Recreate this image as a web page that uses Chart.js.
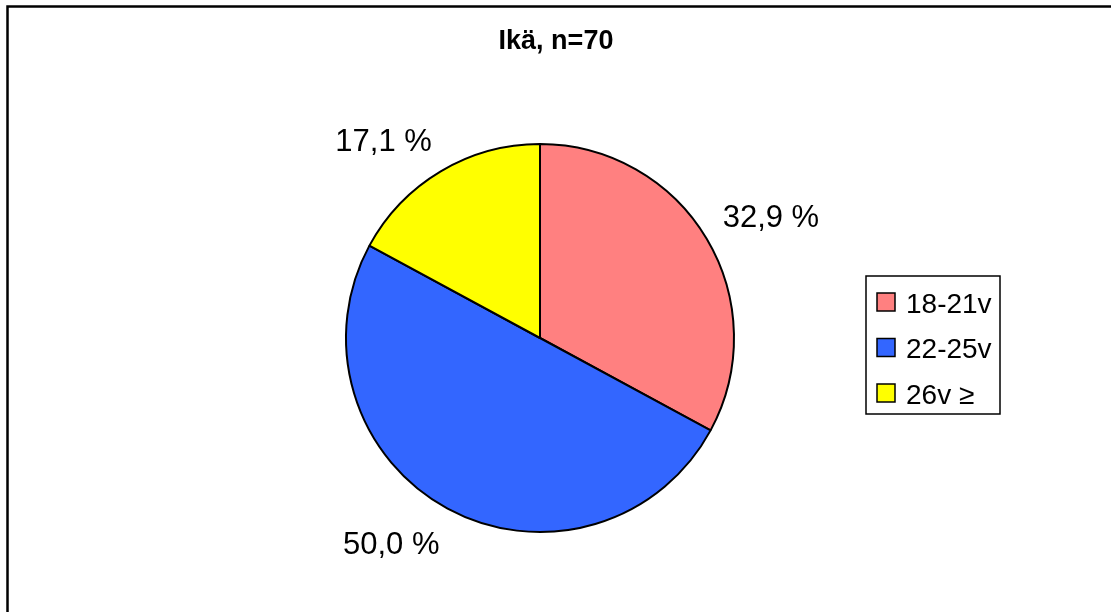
<!DOCTYPE html>
<html>
<head>
<meta charset="utf-8">
<script src="https://cdn.jsdelivr.net/npm/chart.js@4"></script>
<style>
  body { margin: 0; background: #fff; }
  canvas { display: block; }
</style>
</head>
<body>
<canvas id="pie" width="1111" height="612"></canvas>
<script>
const categories = ['18-21v', '22-25v', '26v ≥'];
const percents = [32.9, 50.0, 17.1];
const colors = ['#FF8080', '#3366FF', '#FFFF00'];
const FONT = '"Liberation Sans", Arial, sans-serif';

// frame, title, outside labels and the boxed legend
const extras = {
    id: 'extras',
    afterDraw(chart) {
        const c = chart.ctx;
        c.save();
        c.strokeStyle = '#000';
        c.lineWidth = 2.5;
        c.strokeRect(7.5, 6.5, 1200, 700);

        c.fillStyle = '#000';
        c.textBaseline = 'alphabetic';
        c.textAlign = 'center';
        c.font = 'bold 27px ' + FONT;
        c.fillText('Ikä, n=70', 556, 49);

        // percentage labels: the corner nearest the pie sits on the slice's mid ray
        const size = 31;
        c.font = size + 'px ' + FONT;
        chart.getDatasetMeta(0).data.forEach((arc, i) => {
            const mid = (arc.startAngle + arc.endAngle) / 2;
            const r = arc.outerRadius * 1.12;
            const px = arc.x + Math.cos(mid) * r;
            const py = arc.y + Math.sin(mid) * r;
            const txt = percents[i].toFixed(1).replace('.', ',') + ' %';
            const right = Math.cos(mid) >= 0;
            c.textAlign = right ? 'left' : 'right';
            const y = Math.sin(mid) >= 0 ? py + size * 0.716 + 3 : py;
            c.fillText(txt, px + (right ? -4 : 3), y);
        });

        // legend
        c.lineWidth = 1.5;
        c.strokeRect(866, 276, 134, 138);
        c.textAlign = 'left';
        c.font = '28px ' + FONT;
        categories.forEach((name, i) => {
            const y = 302 + i * 45.5;
            c.fillStyle = colors[i];
            c.fillRect(877, y - 9, 18, 18);
            c.strokeStyle = '#000';
            c.lineWidth = 1.5;
            c.strokeRect(877, y - 9, 18, 18);
            c.fillStyle = '#000';
            c.fillText(name, 906, y + 10.5);
        });
        c.restore();
    }
};

const ctx = document.getElementById('pie').getContext('2d');
const chart = new Chart(ctx, {
    type: 'pie',
    data: {
        labels: categories,
        datasets: [{
            data: percents,
            backgroundColor: colors,
            borderColor: '#000',
            borderWidth: 2,
            hoverOffset: 0,
            offset: 0
        }]
    },
    options: {
        responsive: false,
        animation: false,
        layout: {
            padding: { left: 345, right: 376, top: 143, bottom: 79 }
        },
        plugins: {
            legend: { display: false },
            tooltip: { enabled: false }
        }
    },
    plugins: [extras]
});
</script>
</body>
</html>
